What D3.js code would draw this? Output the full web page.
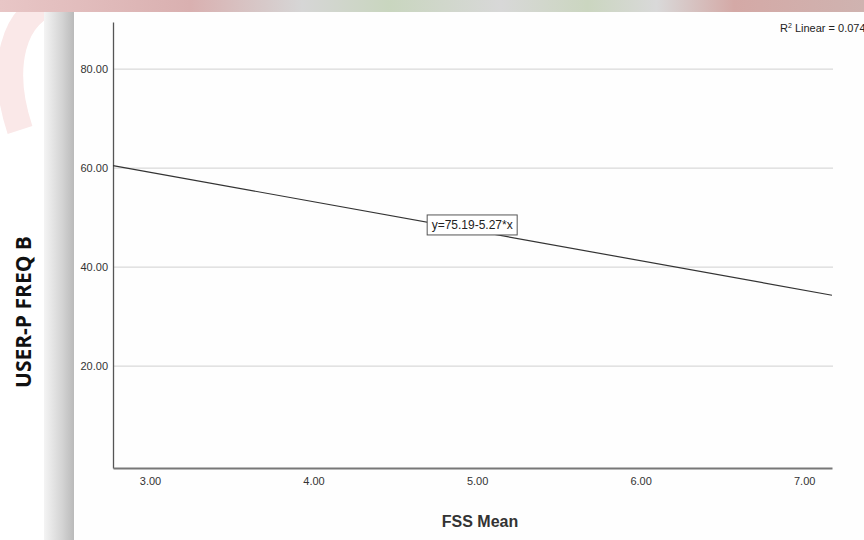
<!DOCTYPE html>
<html>
<head>
<meta charset="utf-8">
<script src="https://cdn.jsdelivr.net/npm/d3@7"></script>
<style>
  body { margin: 0; background: #fff; }
  svg { display: block; }
</style>
</head>
<body>
<div class="chart"></div>
<script>
// data
const xTicks = [3, 4, 5, 6, 7];
const yTicks = [20, 40, 60, 80];
const xDomain = [2.774, 7.17];
const yDomain = [-0.6, 89.5];
// fit line as drawn: [FSS Mean, USER-P FREQ B]
const fitLine = [[2.774, 60.5], [7.17, 34.3]];
const fitLabel = 'y=75.19-5.27*x';
const fitLabelAt = [4.97, 48.5];
const r2Text = '0.074';

const svg = d3.select('.chart').append('svg')
              .attr('width', 864)
              .attr('height', 540);

// page background bits (scan shadow + faded header)
const defs = svg.append('defs');
const shadow = defs.append('linearGradient').attr('id', 'shadow');
shadow.append('stop').attr('offset', '0%').attr('stop-color', '#f4f4f4');
shadow.append('stop').attr('offset', '60%').attr('stop-color', '#d4d4d4');
shadow.append('stop').attr('offset', '100%').attr('stop-color', '#bababa');
const band = defs.append('linearGradient').attr('id', 'band');
[['0%', '#e8c6c6'], ['22%', '#d9b0b0'], ['35%', '#d6d6d6'], ['45%', '#c9d6bf'],
 ['58%', '#d8d8d8'], ['68%', '#cbd6c0'], ['76%', '#d9d9d9'], ['85%', '#d4a9a6'], ['100%', '#cfb3b0']]
  .forEach(s => band.append('stop').attr('offset', s[0]).attr('stop-color', s[1]));

svg.append('path')
   .attr('d', 'M60,0 C10,10 0,70 20,130')
   .attr('fill', 'none')
   .attr('stroke', '#fae8e8')
   .attr('stroke-width', 26);
svg.append('rect').attr('x', 44).attr('y', 10).attr('width', 30).attr('height', 530).attr('fill', 'url(#shadow)');
svg.append('rect').attr('x', 0).attr('y', 0).attr('width', 864).attr('height', 12).attr('fill', 'url(#band)');
svg.append('rect').attr('x', 75).attr('y', 12).attr('width', 789).attr('height', 528).attr('fill', '#fefefe');

const x = d3.scaleLinear().domain(xDomain).range([113, 832]);
const y = d3.scaleLinear().domain(yDomain).range([468, 22]);

// gridlines
svg.append('g')
   .selectAll('line')
   .data(yTicks)
   .join('line')
   .attr('x1', 113)
   .attr('x2', 833)
   .attr('y1', d => y(d))
   .attr('y2', d => y(d))
   .attr('stroke', '#d9d9d9')
   .attr('stroke-width', 1.2);

// y axis
const yAxis = svg.append('g')
   .attr('transform', 'translate(113,0)')
   .call(d3.axisLeft(y).tickValues(yTicks).tickSize(0).tickPadding(5).tickFormat(d3.format('.2f')));
yAxis.select('.domain').attr('stroke', '#555').attr('stroke-width', 1.3);
yAxis.selectAll('text').attr('font-family', 'Arial, Liberation Sans, sans-serif').attr('font-size', 11).attr('fill', '#333');

// x axis
const xAxis = svg.append('g')
   .attr('transform', 'translate(0,468)')
   .call(d3.axisBottom(x).tickValues(xTicks).tickSize(0).tickPadding(9).tickFormat(d3.format('.2f')));
xAxis.select('.domain').attr('stroke', '#777').attr('stroke-width', 2);
xAxis.selectAll('text').attr('font-family', 'Arial, Liberation Sans, sans-serif').attr('font-size', 11).attr('fill', '#333');

// fit line
svg.append('line')
   .attr('x1', x(fitLine[0][0]))
   .attr('y1', y(fitLine[0][1]))
   .attr('x2', x(fitLine[1][0]))
   .attr('y2', y(fitLine[1][1]))
   .attr('stroke', '#333')
   .attr('stroke-width', 1.2);

// equation label
const lab = svg.append('g')
   .attr('transform', `translate(${x(fitLabelAt[0])},${y(fitLabelAt[1])})`);
lab.append('rect')
   .attr('x', -45).attr('y', -10)
   .attr('width', 90).attr('height', 20)
   .attr('fill', '#fff')
   .attr('stroke', '#555')
   .attr('stroke-width', 1);
lab.append('text')
   .attr('text-anchor', 'middle')
   .attr('dy', '0.35em')
   .attr('font-family', 'Arial, Liberation Sans, sans-serif')
   .attr('font-size', 12)
   .attr('fill', '#222')
   .text(fitLabel);

// R2 note (cut at the right edge, as in the scan)
const r2 = svg.append('text')
   .attr('x', 780)
   .attr('y', 32)
   .attr('font-family', 'Arial, Liberation Sans, sans-serif')
   .attr('font-size', 11)
   .attr('fill', '#222');
r2.append('tspan').text('R');
r2.append('tspan').attr('dy', -4).attr('font-size', 7).text('2');
r2.append('tspan').attr('dy', 4).text(' Linear = ' + r2Text);

// axis titles
svg.append('text')
   .attr('x', 480)
   .attr('y', 527)
   .attr('text-anchor', 'middle')
   .attr('font-family', 'Arial, Liberation Sans, sans-serif')
   .attr('font-weight', 'bold')
   .attr('font-size', 16)
   .attr('fill', '#333')
   .text('FSS Mean');

svg.append('text')
   .attr('transform', 'translate(31,312) rotate(-90)')
   .attr('text-anchor', 'middle')
   .attr('font-family', 'Open Sans, sans-serif')
   .attr('font-weight', 'bold')
   .attr('font-size', 21)
   .attr('fill', '#111')
   .text('USER-P FREQ B');
</script>
</body>
</html>
